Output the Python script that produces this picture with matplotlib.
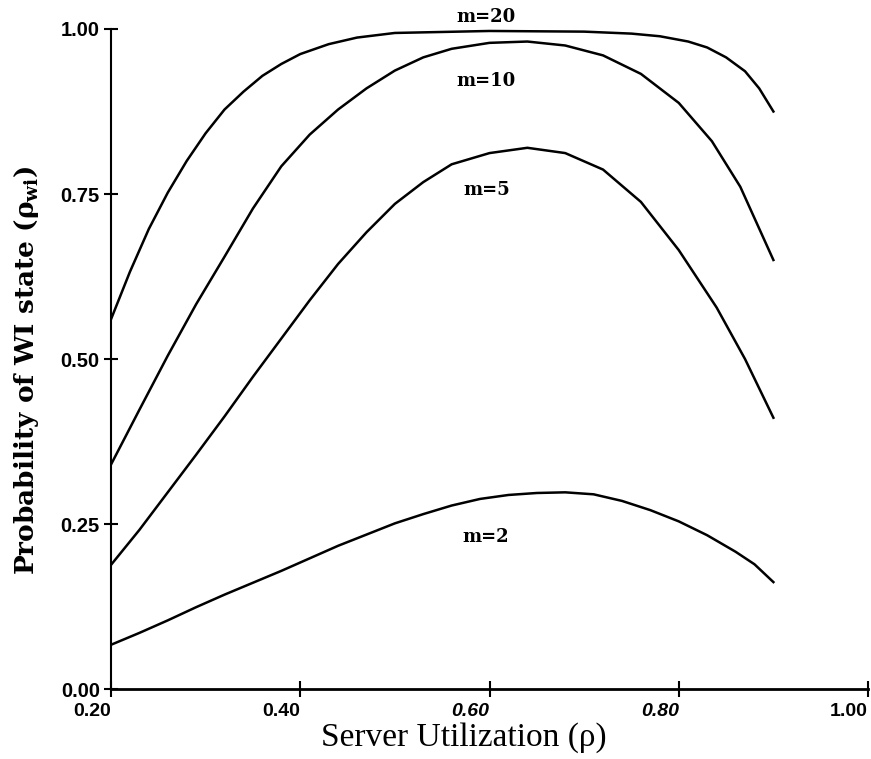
import numpy as np
import matplotlib
matplotlib.use('Agg')
import matplotlib.pyplot as plt

# values
x_m20 = [0.20, 0.22, 0.24, 0.26, 0.28, 0.30, 0.32, 0.34, 0.36, 0.38, 0.40, 0.43, 0.46, 0.50,
         0.60, 0.70, 0.75, 0.78, 0.81, 0.83, 0.85, 0.87, 0.885, 0.90]
y_m20 = [0.560, 0.632, 0.697, 0.752, 0.800, 0.842, 0.878, 0.905, 0.929, 0.947, 0.962, 0.977, 0.987, 0.994,
         0.997, 0.996, 0.993, 0.989, 0.981, 0.972, 0.957, 0.936, 0.910, 0.875]

x_m10 = [0.20, 0.23, 0.26, 0.29, 0.32, 0.35, 0.38, 0.41, 0.44, 0.47, 0.50, 0.53, 0.56, 0.60,
         0.64, 0.68, 0.72, 0.76, 0.80, 0.835, 0.865, 0.90]
y_m10 = [0.340, 0.423, 0.505, 0.583, 0.655, 0.728, 0.792, 0.840, 0.878, 0.910, 0.937, 0.957, 0.970, 0.979,
         0.981, 0.975, 0.960, 0.932, 0.888, 0.830, 0.761, 0.650]

x_m5 = [0.20, 0.23, 0.26, 0.29, 0.32, 0.35, 0.38, 0.41, 0.44, 0.47, 0.50, 0.53, 0.56, 0.60,
        0.64, 0.68, 0.72, 0.76, 0.80, 0.84, 0.87, 0.90]
y_m5 = [0.188, 0.241, 0.298, 0.355, 0.413, 0.473, 0.531, 0.589, 0.644, 0.692, 0.735, 0.768, 0.795, 0.812,
        0.820, 0.812, 0.787, 0.738, 0.665, 0.578, 0.500, 0.411]

x_m2 = [0.20, 0.23, 0.26, 0.29, 0.32, 0.35, 0.38, 0.41, 0.44, 0.47, 0.50, 0.53, 0.56, 0.59,
        0.62, 0.65, 0.68, 0.71, 0.74, 0.77, 0.80, 0.83, 0.86, 0.88, 0.90]
y_m2 = [0.067, 0.085, 0.104, 0.124, 0.143, 0.161, 0.179, 0.198, 0.217, 0.234, 0.251, 0.265, 0.278, 0.288,
        0.294, 0.297, 0.298, 0.295, 0.285, 0.271, 0.254, 0.233, 0.208, 0.189, 0.162]

labels = ['m=20', 'm=10', 'm=5', 'm=2']
label_pos = [(0.596, 1.018), (0.596, 0.921), (0.597, 0.756), (0.596, 0.230)]

x_ticks = [0.20, 0.40, 0.60, 0.80, 1.00]
x_ticklabels = ['0.20', '0.40', '0.60', '0.80', '1.00']
y_ticks = [0.00, 0.25, 0.50, 0.75, 1.00]
y_ticklabels = ['0.00', '0.25', '0.50', '0.75', '1.00']

plt.rcParams['mathtext.fontset'] = 'dejavuserif'

fig = plt.figure(figsize=(8.71, 7.59), dpi=100)
ax = fig.add_axes([0.1274, 0.0922, 0.8692, 0.8696])

for xs, ys in [(x_m20, y_m20), (x_m10, y_m10), (x_m5, y_m5), (x_m2, y_m2)]:
    ax.plot(xs, ys, color='black', linewidth=1.8, solid_joinstyle='round')

for lab, (lx, ly) in zip(labels, label_pos):
    ax.text(lx, ly, lab, ha='center', va='center', fontsize=13,
            fontfamily='DejaVu Serif', fontweight='bold', clip_on=False)

ax.set_xlim(0.2, 1.0)
ax.set_ylim(0.0, 1.0)
ax.spines['top'].set_visible(False)
ax.spines['right'].set_visible(False)
ax.spines['bottom'].set_linewidth(2.0)
ax.spines['left'].set_linewidth(1.5)

ax.set_xticks(x_ticks)
ax.set_xticklabels(x_ticklabels)
ax.set_yticks(y_ticks)
ax.set_yticklabels(y_ticklabels)
ax.tick_params(axis='x', direction='inout', length=12, width=1.5, pad=4)
ax.tick_params(axis='y', direction='inout', length=10, width=1.5, pad=3)

# x tick labels sit to the left of their ticks in the original
for i, t in enumerate(ax.get_xticklabels()):
    t.set_fontfamily('Liberation Sans')
    t.set_fontweight('bold')
    t.set_fontsize(14)
    t.set_ha('right')
    if x_ticklabels[i] in ('0.60', '0.80'):
        t.set_fontstyle('italic')
for t in ax.get_yticklabels():
    t.set_fontfamily('Liberation Sans')
    t.set_fontweight('bold')
    t.set_fontsize(14.5)

ax.set_xlabel('Server Utilization (ρ)', fontfamily='Liberation Serif', fontsize=24)
ax.xaxis.label.set_va('baseline')
ax.xaxis.set_label_coords(0.466, -0.086)
ax.set_ylabel(r'Probability of WI state (ρ$_{\mathbf{wi}}$)', fontfamily='DejaVu Serif',
              fontweight='bold', fontsize=19)
ax.yaxis.label.set_va('center')
ax.yaxis.set_label_coords(-0.112, 0.483)

fig.savefig('out.png', dpi=100)
